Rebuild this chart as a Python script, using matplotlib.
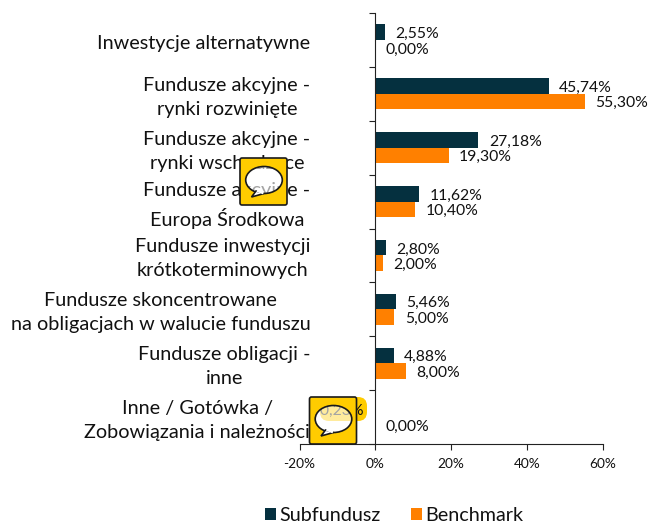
import numpy as np
import matplotlib
matplotlib.use("Agg")
import matplotlib.pyplot as plt
from matplotlib.patches import PathPatch, FancyBboxPatch, Polygon, Ellipse, Patch
from matplotlib.path import Path
from matplotlib.transforms import Affine2D

categories = ["Inwestycje alternatywne", "Fundusze akcyjne -\nrynki rozwinięte",
              "Fundusze akcyjne -\nrynki wschodzące", "Fundusze akcyjne -\nEuropa Środkowa",
              "Fundusze inwestycji\nkrótkoterminowych",
              "Fundusze skoncentrowane\nna obligacjach w walucie funduszu",
              "Fundusze obligacji -\ninne", "Inne / Gotówka /\nZobowiązania i należności"]
subfundusz = [2.55, 45.74, 27.18, 11.62, 2.80, 5.46, 4.88, -0.23]
benchmark = [0.00, 55.30, 19.30, 10.40, 2.00, 5.00, 8.00, 0.00]
x_ticks = [-20, 0, 20, 40, 60]

DARK, ORANGE, YELLOW = "#05303F", "#FF8000", "#FFCC00"
plt.rcParams["font.family"] = ["Lato", "DejaVu Sans"]

W, H = 648, 526
fig = plt.figure(figsize=(W / 100, H / 100), dpi=100)
L, R, T, B = 299.5, 603, 13, 444
ax = fig.add_axes([L / W, 1 - B / H, (R - L) / W, (B - T) / H])
px = Affine2D().scale(1, -1).translate(0, H)

n = len(categories)
y = np.arange(n)
h = 0.2875
ax.barh(y - h / 2, subfundusz, h, color=DARK)
ax.barh(y + h / 2, benchmark, h, color=ORANGE)
ax.set_xlim(-20, 60)
ax.set_ylim(n - 0.5, -0.5)

for s in ("top", "right"):
    ax.spines[s].set_visible(False)
ax.spines["left"].set_position(("data", 0))
for s in ("left", "bottom"):
    ax.spines[s].set_linewidth(0.8)
    ax.spines[s].set_color("#222222")

ax.set_xticks(x_ticks)
ax.set_xticklabels([f"{v}%" for v in x_ticks], fontsize=9.8, color="#111111")
ax.tick_params(axis="x", length=4, width=0.8, pad=6, color="#222222")
ax.set_yticks(np.arange(n + 1) - 0.5)
ax.set_yticklabels([])
ax.tick_params(axis="y", which="major", length=4, width=0.8, color="#222222")
ax.set_yticks(y + 0.065, minor=True)
ax.set_yticklabels(categories, minor=True, fontsize=14.3, color="#111111",
                   ha="right", va="center", multialignment="center", linespacing=1.5)
ax.tick_params(axis="y", which="minor", length=0, pad=46.8)


def fmt(v):
    return f"{v:.2f}".replace(".", ",") + "%"


for i in y:
    for v, off in ((subfundusz[i], -h / 2), (benchmark[i], h / 2)):
        if v < 0:
            ax.annotate(fmt(v), (v, i + off), xytext=(-8, -1.3), textcoords="offset points",
                        ha="right", va="center", fontsize=11.3, color="#111111", zorder=5)
        else:
            ax.annotate(fmt(v), (v, i + off), xytext=(7.5, -1.3), textcoords="offset points",
                        ha="left", va="center", fontsize=11.3, color="#111111", zorder=5)

# highlight behind the hidden comment label
ax.add_patch(FancyBboxPatch((320, 397), 47, 24, boxstyle="round,pad=0,rounding_size=9",
                            fc=YELLOW, ec="none", transform=px, clip_on=False, zorder=1.5,
                            mutation_scale=1))


def bubble(x0, y0):
    w, hh = 47, 47
    cx, cy, a, b = x0 + 24, y0 + 22, 18.3, 13.5
    white = Ellipse((cx, cy), 2 * a, 2 * b, fc="white", ec="none", alpha=0.62, transform=px, zorder=6)
    fig.add_artist(white)
    rect = FancyBboxPatch((x0, y0), w, hh, boxstyle="round,pad=0,rounding_size=2").get_path()
    hole = Path.unit_circle()
    hole = hole.transformed(Affine2D().scale(a, -b).translate(cx, cy))
    comp = Path.make_compound_path(rect, hole)
    fig.add_artist(PathPatch(comp, fc=YELLOW, ec="#1a1a1a", lw=1.2, transform=px, zorder=7))
    tail = [(x0 + 16, y0 + 33), (x0 + 11.5, y0 + 39), (x0 + 24, y0 + 35.5)]
    fig.add_artist(Polygon(tail, closed=True, fc="white", ec="#1a1a1a", lw=1.2, transform=px, zorder=8))
    fig.add_artist(PathPatch(Path([(x0 + 17, y0 + 32.6), (x0 + 23.5, y0 + 35)]), fc="none", ec="white",
                             lw=2, transform=px, zorder=8.5))


bubble(240, 158)
bubble(309.5, 397)

handles = [Patch(fc=DARK, label="Subfundusz"), Patch(fc=ORANGE, label="Benchmark")]
fig.legend(handles=handles, loc="lower left", bbox_to_anchor=(251 / W, -12 / H), ncol=2, frameon=False,
           fontsize=14.2, handlelength=0.56, handleheight=0.56, handletextpad=0.2, columnspacing=1.5,
           labelcolor="#111111", borderpad=0.2)
fig.savefig("out.png", dpi=100)
